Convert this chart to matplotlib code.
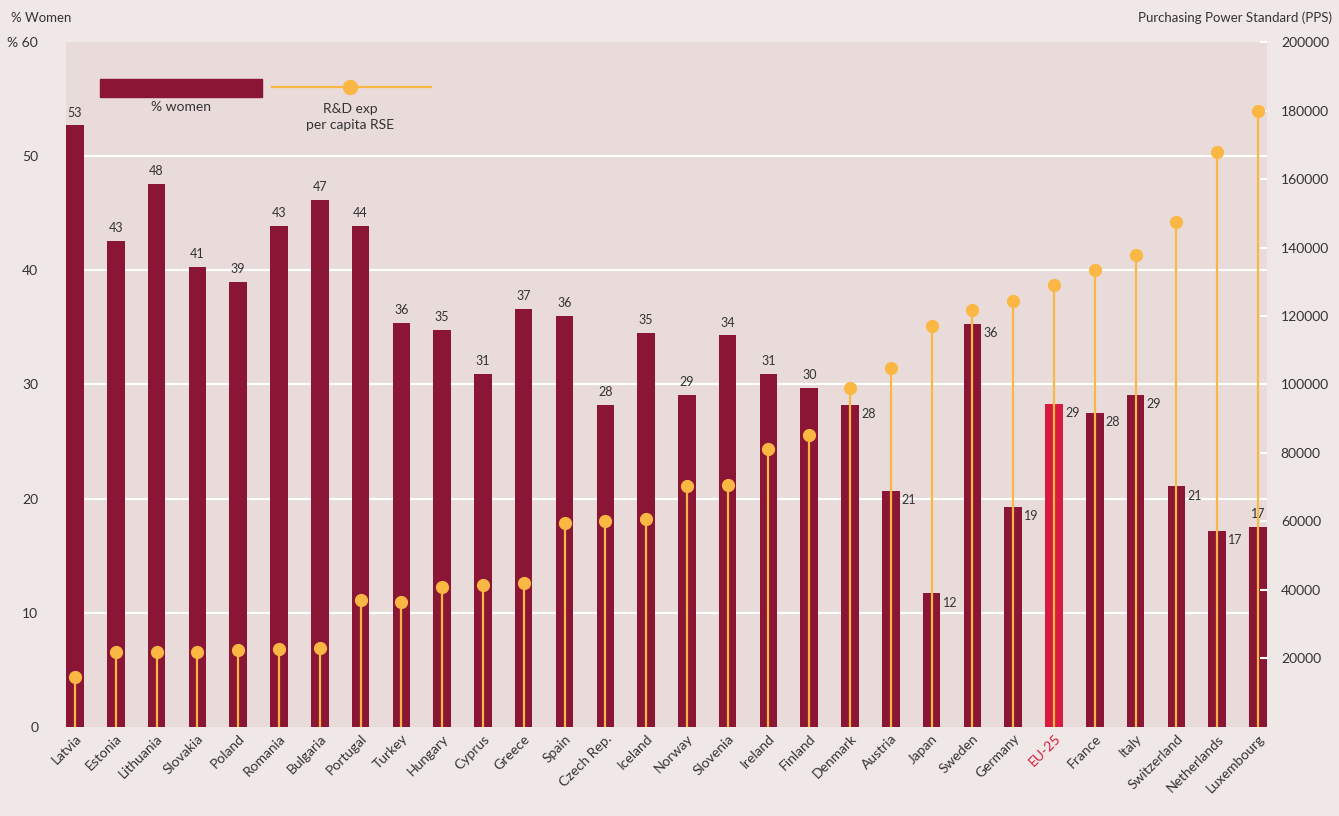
import numpy as np
import matplotlib.pyplot as plt
from matplotlib.patches import Rectangle
from matplotlib.lines import Line2D

countries = ['Latvia', 'Estonia', 'Lithuania', 'Slovakia', 'Poland', 'Romania', 'Bulgaria',
             'Portugal', 'Turkey', 'Hungary', 'Cyprus', 'Greece', 'Spain', 'Czech Rep.',
             'Iceland', 'Norway', 'Slovenia', 'Ireland', 'Finland', 'Denmark', 'Austria',
             'Japan', 'Sweden', 'Germany', 'EU-25', 'France', 'Italy', 'Switzerland',
             'Netherlands', 'Luxembourg']
women = [52.7, 42.6, 47.6, 40.3, 39.0, 43.9, 46.2, 43.9, 35.4, 34.8, 30.9, 36.6, 36.0,
         28.2, 34.5, 29.1, 34.3, 30.9, 29.7, 28.2, 20.7, 11.7, 35.3, 19.3, 28.3, 27.5,
         29.1, 21.1, 17.2, 17.5]
women_labels = [53, 43, 48, 41, 39, 43, 47, 44, 36, 35, 31, 37, 36, 28, 35, 29, 34, 31,
                30, 28, 21, 12, 36, 19, 29, 28, 29, 21, 17, 17]
rd_exp = [14600, 21900, 21900, 21900, 22500, 22800, 23000, 37000, 36500, 41000, 41500,
          42000, 59500, 60000, 60700, 70400, 70700, 81200, 85300, 99000, 104800, 117000,
          121800, 124400, 129000, 133400, 137800, 147400, 168000, 180000]

BAR = '#8a1535'
EU = '#d81b40'
GOLD = '#fbb743'
FIG_BG = '#f0e8e6'
AX_BG = '#e8dbd9'
TXT = '#333333'

plt.rcParams['font.family'] = ['Lato', 'DejaVu Sans']

fig = plt.figure(figsize=(13.39, 8.16), dpi=100, facecolor=FIG_BG)
ax = fig.add_axes([0.0493, 0.1091, 0.8969, 0.8394])
ax.set_facecolor(AX_BG)
x = np.arange(len(countries))
colors = [EU if c == 'EU-25' else BAR for c in countries]
ax.bar(x, women, width=0.43, color=colors, zorder=2)
ax.set_xlim(-0.22, len(countries) - 1 + 0.22)
ax.set_ylim(0, 60)
ax.set_yticks([0, 10, 20, 30, 40, 50, 60])
ax.set_yticklabels(['0', '10', '20', '30', '40', '50', '% 60'])
for v in [10, 20, 30, 40, 50]:
    ax.axhline(v, color='white', lw=1.6, zorder=1)
for s in ax.spines.values():
    s.set_visible(False)
ax.tick_params(axis='y', length=0, pad=20, labelsize=10, labelcolor=TXT)
ax.tick_params(axis='x', length=0, pad=4, labelsize=10, labelcolor=TXT)
ax.set_xticks(x)
ax.set_xticklabels(countries, rotation=45, ha='right', rotation_mode='anchor')
for lbl in ax.get_xticklabels():
    if lbl.get_text() == 'EU-25':
        lbl.set_color(EU)

# value labels
for i, (v, t) in enumerate(zip(women, women_labels)):
    if 19 <= i <= 28:
        ax.text(i + 0.27, v - 0.3, str(t), ha='left', va='top', fontsize=9, color=TXT, zorder=5)
    else:
        ax.text(i, v + 0.6, str(t), ha='center', va='bottom', fontsize=9, color=TXT, zorder=5)

ax2 = ax.twinx()
ax2.set_ylim(0, 200000)
ax2.set_yticks(np.arange(20000, 200001, 20000))
ax2.set_yticklabels([str(v) for v in range(20000, 200001, 20000)])
for s in ax2.spines.values():
    s.set_visible(False)
ax2.tick_params(axis='y', direction='in', length=5, color='white', width=1.5,
                pad=10, labelsize=10, labelcolor=TXT)
ax2.vlines(x, 0, rd_exp, color=GOLD, lw=1.6, zorder=3)
ax2.plot(x, rd_exp, 'o', color=GOLD, ms=8.5, zorder=4)

fig.text(0.008, 0.978, '% Women', fontsize=9.5, color=TXT, va='center')
fig.text(0.995, 0.978, 'Purchasing Power Standard (PPS)', fontsize=9.5, color=TXT,
         va='center', ha='right')

# legend
fig.patches.append(Rectangle((100 / 1339, 1 - 97 / 816), 162 / 1339, 18 / 816,
                             transform=fig.transFigure, color=BAR, figure=fig))
fig.text(181 / 1339, 1 - 107 / 816, '% women', ha='center', va='center', fontsize=10,
         color=TXT)
fig.add_artist(Line2D([272 / 1339, 431 / 1339], [1 - 87 / 816, 1 - 87 / 816],
                      transform=fig.transFigure, color=GOLD, lw=1.6))
fig.add_artist(Line2D([350 / 1339], [1 - 87 / 816], transform=fig.transFigure,
                      marker='o', color=GOLD, ms=10))
fig.text(350 / 1339, 1 - 117 / 816, 'R&D exp\nper capita RSE', ha='center', va='center',
         fontsize=10, color=TXT, linespacing=1.45)

fig.savefig('out.png', dpi=100, facecolor=FIG_BG)
